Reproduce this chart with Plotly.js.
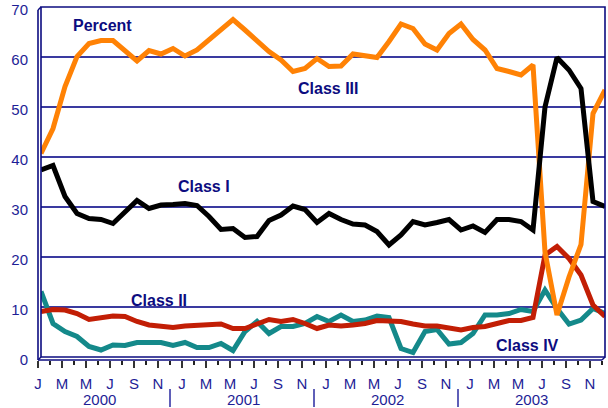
<!DOCTYPE html>
<html>
<head>
<meta charset="utf-8">
<script src="https://cdn.plot.ly/plotly-3.0.1.min.js"></script>
<style>html,body{margin:0;padding:0;background:#fff;}#chart{width:608px;height:408px;}</style>
</head>
<body>
<div id="chart"></div>
<script>
// ---- data ----
const years = ['2000', '2001', '2002', '2003'];
const monthInitials = ['J', 'F', 'M', 'A', 'M', 'J', 'J', 'A', 'S', 'O', 'N', 'D'];
const seriesNames = ['Class I', 'Class II', 'Class III', 'Class IV'];

const classI = [37.4, 38.3, 32.1, 28.7, 27.7, 27.5, 26.7, 29.1, 31.3, 29.7, 30.4, 30.5,
                30.7, 30.3, 28.1, 25.5, 25.7, 23.9, 24.1, 27.3, 28.4, 30.2, 29.5, 26.9,
                28.7, 27.5, 26.6, 26.4, 25.1, 22.4, 24.4, 27.1, 26.4, 26.9, 27.5, 25.4,
                26.2, 24.9, 27.5, 27.5, 27.1, 25.4, 50.0, 59.9, 57.4, 53.7, 31.1, 30.1];
const classII = [9.1, 9.5, 9.4, 8.7, 7.5, 7.9, 8.2, 8.1, 7.1, 6.4, 6.2, 5.9,
                 6.2, 6.3, 6.3, 6.6, 5.7, 5.7, 6.6, 7.5, 7.1, 7.5, 6.7, 5.7,
                 6.4, 6.2, 6.4, 6.7, 7.3, 7.3, 7.1, 6.6, 6.2, 6.2, 5.7, 5.4,
                 5.9, 6.1, 6.7, 7.3, 7.3, 7.9, 20.4, 22.1, 19.7, 16.4, 10.4, 8.1];
const classIII = [40.7, 45.7, 54.1, 60.1, 62.7, 63.3, 63.3, 61.4, 59.2, 61.3, 60.6, 61.7,
                  60.2, 61.4, 63.5, 65.3, 67.5, 65.4, 63.1, 61.1, 59.4, 57.1, 57.7, 59.7,
                  58.1, 58.2, 60.6, 60.2, 59.9, 63.1, 66.6, 65.7, 62.6, 61.4, 64.7, 66.6,
                  63.5, 61.4, 57.7, 57.1, 56.4, 58.4, 21.0, 8.4, 16.0, 22.5, 48.7, 53.4];
const classIV = [13.1, 6.7, 5.1, 4.1, 2.1, 1.4, 2.4, 2.3, 2.9, 2.9, 2.9, 2.3,
                 2.9, 1.9, 1.9, 2.7, 1.3, 5.1, 7.1, 4.7, 6.1, 6.1, 6.7, 8.1,
                 7.1, 8.4, 7.1, 7.4, 8.2, 7.9, 1.7, 0.9, 5.1, 5.5, 2.6, 2.9,
                 4.7, 8.4, 8.4, 8.7, 9.5, 9.1, 13.4, 9.7, 6.6, 7.4, 9.7, 8.7];
const yTicks = [0, 10, 20, 30, 40, 50, 60, 70];

// ---- derived ----
const nMonths = years.length * 12;
const xIdx = Array.from({length: nMonths}, (_, i) => i);
const tickVals = xIdx.filter(i => i % 2 === 0);
const tickText = tickVals.map(i => monthInitials[i % 12]);

const W = 608, H = 408;
const mL = 38, mR = 3, mT = 7, mB = 48;
const pw = W - mL - mR, ph = H - mT - mB;
const d = 3; // 3D offset in px
const py = v => (H - mB - v) / ph;

const navy = '#0c0c80';
const labelColor = '#1e1e96';
const font = 'Liberation Sans, Arial, sans-serif';

function line(y, color, name) {
  return {x: xIdx, y: y, type: 'scatter', mode: 'lines', name: name,
          xaxis: 'x', yaxis: 'y',
          line: {color: color, width: 5, shape: 'linear'}, hoverinfo: 'skip'};
}
const traces = [
  line(classIV, '#14898a', seriesNames[3]),
  line(classII, '#c21e05', seriesNames[1]),
  line(classIII, '#ff8205', seriesNames[2]),
  line(classI, '#000000', seriesNames[0]),
  // invisible trace to anchor front-plane axes
  {x: [0], y: [0], xaxis: 'x2', yaxis: 'y2', type: 'scatter', mode: 'markers',
   marker: {opacity: 0}, hoverinfo: 'skip', showlegend: false}
];

const shapes = [
  // back wall
  {type: 'rect', xref: 'paper', yref: 'paper', x0: d / pw, x1: 1, y0: d / ph, y1: 1,
   line: {color: navy, width: 1.6}, layer: 'above'},
  // front left edge
  {type: 'line', xref: 'paper', yref: 'paper', x0: 0, x1: 0, y0: 0, y1: 1 - d / ph,
   line: {color: navy, width: 1.6}, layer: 'above'},
  // front bottom edge
  {type: 'line', xref: 'paper', yref: 'paper', x0: 0, x1: 1 - d / pw, y0: 0, y1: 0,
   line: {color: navy, width: 1.6}, layer: 'above'},
  // diagonals
  {type: 'line', xref: 'paper', yref: 'paper', x0: 0, x1: d / pw, y0: 1 - d / ph, y1: 1,
   line: {color: navy, width: 1.4}, layer: 'above'},
  {type: 'line', xref: 'paper', yref: 'paper', x0: 0, x1: d / pw, y0: 0, y1: d / ph,
   line: {color: navy, width: 1.4}, layer: 'above'},
  {type: 'line', xref: 'paper', yref: 'paper', x0: 1 - d / pw, x1: 1, y0: 0, y1: d / ph,
   line: {color: navy, width: 1.4}, layer: 'above'}
];
// year separators
for (let k = 0; k < years.length - 1; k++) {
  shapes.push({type: 'line', xref: 'x2', yref: 'paper', x0: 11 + 12 * k, x1: 11 + 12 * k,
               y0: py(389), y1: py(407), line: {color: '#2a2aa0', width: 1.5}});
}

const annotations = years.map((yr, k) => ({
  text: yr, xref: 'x2', yref: 'paper', x: 5.15 + 12 * k, y: py(399),
  showarrow: false, xanchor: 'center', yanchor: 'middle',
  font: {family: font, size: 15, color: labelColor}
}));
function lab(text, x, y) {
  annotations.push({text: text, xref: 'x', yref: 'y', x: x, y: y, showarrow: false,
    xanchor: 'center', yanchor: 'middle',
    font: {family: font, size: 16, color: navy, weight: 'bold'}});
}
lab('<b>Percent</b>', 5.1, 66.4);
lab('<b>' + seriesNames[2] + '</b>', 23.95, 53.8);
lab('<b>' + seriesNames[0] + '</b>', 13.6, 34.2);
lab('<b>' + seriesNames[1] + '</b>', 9.85, 11.3);
lab('<b>' + seriesNames[3] + '</b>', 40.5, 2.4);

const layout = {
  width: W, height: H,
  margin: {l: mL, r: mR, t: mT, b: mB, pad: 0},
  paper_bgcolor: '#ffffff', plot_bgcolor: 'rgba(0,0,0,0)',
  showlegend: false,
  xaxis: {domain: [d / pw, 1], range: [0, nMonths - 1], anchor: 'y',
          showgrid: false, zeroline: false, showline: false, showticklabels: false, ticks: ''},
  yaxis: {domain: [d / ph, 1], range: [0, 70], anchor: 'x',
          tickmode: 'array', tickvals: yTicks, showticklabels: false, ticks: '',
          showgrid: true, gridcolor: '#3a3aa0', gridwidth: 1.2, zeroline: false, showline: false},
  xaxis2: {domain: [0, 1 - d / pw], range: [0, nMonths - 1], anchor: 'y2',
           tickmode: 'array', tickvals: tickVals, ticktext: tickText,
           ticks: 'outside', ticklen: 7, tickwidth: 1.5, tickcolor: '#333',
           minor: {tickmode: 'linear', tick0: 0, dtick: 1, ticks: 'outside', ticklen: 4,
                   tickwidth: 1.5, tickcolor: '#222', showgrid: false},
           ticklabelstandoff: 3,
           tickfont: {family: font, size: 15, color: labelColor},
           showgrid: false, zeroline: false, showline: false},
  yaxis2: {domain: [0, 1 - d / ph], range: [0, 70], anchor: 'x2',
           tickmode: 'array', tickvals: yTicks, ticks: '',
           ticklabelstandoff: 9,
           tickfont: {family: font, size: 15, color: labelColor},
           showgrid: false, zeroline: false, showline: false},
  shapes: shapes,
  annotations: annotations
};

Plotly.newPlot('chart', traces, layout, {staticPlot: true, displayModeBar: false});
</script>
</body>
</html>
